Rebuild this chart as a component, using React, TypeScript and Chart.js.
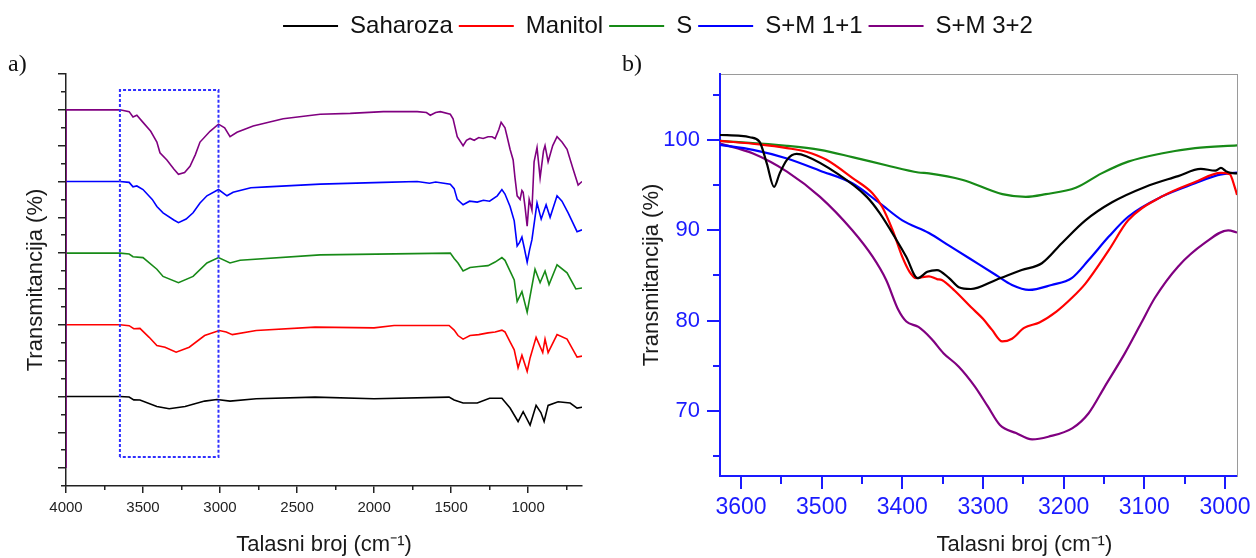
import React, { useEffect, useRef } from 'react';
import { Chart, registerables } from 'chart.js';

Chart.register(...registerables);

const FONT = "'Liberation Sans', Arial, Helvetica, sans-serif";
const SERIF = "'Liberation Serif', 'Times New Roman', serif";

// ---- series (shared legend) ----
const SERIES_NAMES = ['Saharoza', 'Manitol', 'S', 'S+M 1+1', 'S+M 3+2'];
const SERIES_COLORS = ['#000000', '#ff0000', '#178a17', '#0000ff', '#800080'];

// ---- panel a): stacked FTIR spectra (arbitrary offset units) ----
const A_X_MIN = 650;
const A_X_MAX = 4000;
const A_Y_MIN = 0;
const A_Y_MAX = 23;
const A_X_MAJOR = [4000, 3500, 3000, 2500, 2000, 1500, 1000];
const A_X_MINOR = [3750, 3250, 2750, 2250, 1750, 1250, 750];
const A_Y_MAJOR = [1, 3, 5, 7, 9, 11, 13, 15, 17, 19, 21, 23];
const A_Y_MINOR = [0, 2, 4, 6, 8, 10, 12, 14, 16, 18, 20, 22];

const A_BLACK_X = [4000, 3650, 3590, 3560, 3520, 3410, 3330, 3227, 3100, 3020, 2935, 2765, 2383, 2000, 1513, 1480, 1422, 1330, 1250, 1170, 1117, 1065, 1032, 987, 948, 917, 896, 870, 805, 727, 682, 650];
const A_BLACK_Y = [5, 5, 4.97, 4.81, 4.8, 4.44, 4.31, 4.44, 4.74, 4.83, 4.74, 4.87, 4.96, 4.87, 4.96, 4.8, 4.63, 4.63, 4.9, 4.9, 4.35, 3.6, 4.15, 3.4, 4.5, 4.1, 3.6, 4.5, 4.7, 4.63, 4.35, 4.4];

const A_RED_X = [4000, 3650, 3590, 3560, 3520, 3460, 3410, 3357, 3285, 3200, 3100, 3005, 2960, 2920, 2765, 2383, 2000, 1870, 1513, 1480, 1455, 1422, 1377, 1320, 1260, 1214, 1170, 1150, 1117, 1090, 1065, 1040, 1006, 987, 948, 905, 890, 870, 812, 747, 682, 650];
const A_RED_Y = [9, 9, 8.95, 8.78, 8.8, 8.3, 7.84, 7.75, 7.47, 7.75, 8.4, 8.68, 8.6, 8.45, 8.68, 8.87, 8.83, 8.96, 8.96, 8.7, 8.4, 8.2, 8.4, 8.45, 8.55, 8.6, 8.7, 8.6, 8.05, 7.6, 6.6, 7.3, 6.4, 7.15, 8.3, 7.45, 8.2, 7.45, 8.45, 8.2, 7.2, 7.25];

const A_GREEN_X = [4000, 3650, 3590, 3565, 3500, 3410, 3370, 3270, 3175, 3085, 3010, 2935, 2870, 2350, 1505, 1480, 1455, 1422, 1377, 1320, 1260, 1214, 1170, 1150, 1117, 1090, 1071, 1040, 1006, 987, 955, 922, 890, 864, 812, 747, 690, 650];
const A_GREEN_Y = [13, 13, 12.95, 12.8, 12.75, 12.1, 11.7, 11.35, 11.7, 12.45, 12.75, 12.45, 12.6, 12.9, 13.0, 12.7, 12.45, 12.0, 12.2, 12.25, 12.3, 12.5, 12.75, 12.6, 12.0, 11.5, 10.3, 10.85, 9.7, 10.6, 12.1, 11.35, 12.0, 11.25, 12.35, 11.9, 11.0, 11.05];

const A_BLUE_X = [4000, 3650, 3590, 3565, 3540, 3500, 3440, 3410, 3370, 3300, 3270, 3220, 3175, 3130, 3085, 3010, 2955, 2915, 2800, 2695, 2350, 1940, 1720, 1640, 1600, 1505, 1480, 1460, 1422, 1380, 1330, 1290, 1250, 1200, 1170, 1150, 1117, 1090, 1071, 1055, 1040, 1025, 1006, 990, 975, 955, 942, 915, 883, 857, 812, 780, 740, 682, 650];
const A_BLUE_Y = [17, 17, 16.95, 16.7, 16.75, 16.55, 16.0, 15.6, 15.25, 14.85, 14.7, 14.9, 15.25, 15.8, 16.2, 16.55, 16.2, 16.4, 16.65, 16.7, 16.85, 16.95, 17.0, 16.9, 16.97, 16.85, 16.6, 16.0, 15.7, 15.9, 15.85, 15.95, 15.9, 16.2, 16.55, 16.3, 15.6, 14.8, 13.4, 13.6, 13.9, 13.3, 12.5, 13.2, 13.75, 15.0, 15.8, 14.9, 15.7, 15.0, 16.2, 15.9, 15.25, 14.2, 14.3];

const A_PURPLE_X = [4000, 4000, 3650, 3590, 3565, 3540, 3500, 3450, 3410, 3390, 3345, 3300, 3270, 3230, 3195, 3160, 3130, 3065, 3010, 2970, 2935, 2890, 2785, 2590, 2350, 2155, 1940, 1720, 1660, 1635, 1600, 1570, 1505, 1487, 1460, 1422, 1400, 1377, 1350, 1320, 1292, 1260, 1234, 1214, 1190, 1175, 1150, 1136, 1117, 1097, 1085, 1071, 1052, 1040, 1032, 1020, 1006, 993, 975, 961, 942, 922, 900, 890, 870, 840, 812, 780, 747, 708, 675, 650];
const A_PURPLE_Y = [1, 21, 21, 20.9, 20.6, 20.7, 20.3, 19.8, 19.2, 18.6, 18.2, 17.7, 17.4, 17.5, 17.85, 18.5, 19.2, 19.8, 20.2, 20.0, 19.5, 19.75, 20.1, 20.5, 20.75, 20.8, 20.9, 20.9, 20.85, 20.7, 20.85, 20.9, 20.75, 20.5, 19.5, 19.0, 19.3, 19.4, 19.3, 19.45, 19.4, 19.5, 19.5, 19.4, 19.9, 20.3, 20.0, 19.5, 18.8, 18.2, 17.2, 16.2, 16.0, 16.5, 16.4, 15.6, 14.5, 16.0, 15.4, 18.1, 18.9, 17.2, 18.7, 19.0, 18.1, 19.0, 19.5, 19.2, 18.8, 17.7, 16.8, 17.0];

// dotted zoom box marking the O-H region
const A_BOX_X = [3650, 3650, 3010, 3010, 3650];
const A_BOX_Y = [1.62, 22.1, 22.1, 1.62, 1.62];

// ---- panel b): O-H region, transmittance (%) ----
const B_X_MIN = 2985;
const B_X_MAX = 3626;
const B_Y_MIN = 62.8;
const B_Y_MAX = 107.3;
const B_X_MAJOR = [3600, 3500, 3400, 3300, 3200, 3100, 3000];
const B_X_MINOR = [3550, 3450, 3350, 3250, 3150, 3050];
const B_Y_MAJOR = [70, 80, 90, 100];
const B_Y_MINOR = [65, 75, 85, 95, 105];

const B_BLACK_X = [3626, 3600, 3589, 3577, 3568, 3559, 3552, 3543, 3531, 3519, 3481, 3444, 3428, 3407, 3395, 3381, 3369, 3357, 3342, 3330, 3315, 3284, 3252, 3227, 3202, 3173, 3140, 3099, 3058, 3030, 3012, 3005, 2999, 2993, 2985];
const B_BLACK_Y = [100.55, 100.45, 100.3, 99.8, 97.4, 94.8, 96.3, 97.8, 98.45, 98.2, 96.3, 93.7, 91.9, 88.9, 87.05, 84.7, 85.4, 85.6, 84.7, 83.7, 83.5, 84.5, 85.6, 86.35, 88.6, 91.1, 93.1, 94.8, 96.0, 96.8, 96.6, 96.9, 96.55, 96.35, 96.3];

const B_RED_X = [3626, 3577, 3543, 3519, 3494, 3462, 3437, 3425, 3412, 3400, 3391, 3383, 3367, 3357, 3351, 3335, 3315, 3300, 3289, 3276, 3264, 3249, 3230, 3209, 3190, 3173, 3144, 3120, 3079, 3037, 3005, 2994, 2988, 2985];
const B_RED_Y = [99.9, 99.5, 99.1, 98.7, 97.8, 95.8, 94.1, 92.6, 90.0, 87.05, 85.4, 84.7, 84.9, 84.6, 84.5, 83.3, 81.5, 80.2, 79.0, 77.7, 78.0, 79.2, 79.8, 81.0, 82.5, 84.1, 87.8, 91.1, 93.7, 95.35, 96.35, 96.2, 94.8, 93.9];

const B_GREEN_X = [3626, 3543, 3502, 3462, 3420, 3380, 3367, 3326, 3276, 3247, 3222, 3185, 3153, 3120, 3079, 3037, 2985];
const B_GREEN_Y = [99.9, 99.35, 98.9, 98.1, 97.2, 96.4, 96.3, 95.6, 94.0, 93.7, 94.0, 94.7, 96.3, 97.6, 98.5, 99.1, 99.4];

const B_BLUE_X = [3626, 3585, 3543, 3502, 3462, 3428, 3400, 3367, 3342, 3317, 3284, 3264, 3243, 3215, 3190, 3169, 3144, 3120, 3079, 3037, 3009, 2985];
const B_BLUE_Y = [99.45, 98.9, 97.95, 96.6, 95.2, 93.0, 91.1, 89.7, 88.3, 86.9, 85.05, 83.95, 83.4, 83.95, 84.7, 86.7, 89.3, 91.5, 93.7, 95.2, 96.1, 96.4];

const B_PURPLE_X = [3626, 3585, 3543, 3502, 3462, 3437, 3420, 3405, 3395, 3380, 3364, 3349, 3330, 3310, 3294, 3279, 3259, 3239, 3219, 3189, 3169, 3149, 3124, 3104, 3087, 3058, 3025, 2996, 2985];
const B_PURPLE_Y = [99.6, 98.5, 96.5, 93.7, 90.0, 87.1, 84.5, 81.2, 79.9, 79.3, 78.0, 76.4, 74.9, 72.7, 70.5, 68.45, 67.55, 66.85, 67.15, 68.1, 69.75, 72.7, 76.4, 79.7, 82.5, 86.0, 88.6, 90.0, 89.75];

const X_TITLE = 'Talasni broj (cm⁻¹)';
// panel b's axis title sits right of the axis centre in the original
const X_TITLE_B = '               Talasni broj (cm⁻¹)';
const Y_TITLE = 'Transmitancija (%)';

const BLUE_AXIS = '#1a1aff';
const DARK = '#1a1a1a';

const pts = (xs: number[], ys: number[]) => xs.map((x, i) => ({ x, y: ys[i] }));

const setTicks = (vals: number[]) => (s: any) => {
  s.ticks = vals.map((v) => ({ value: v }));
};

function legendConfig(): any {
  return {
    type: 'line',
    data: {
      datasets: SERIES_NAMES.map((n, i) => ({
        label: n,
        data: [],
        borderColor: SERIES_COLORS[i],
        backgroundColor: SERIES_COLORS[i],
        borderWidth: 0,
      })),
    },
    options: {
      responsive: false,
      animation: false,
      events: [],
      layout: { padding: { top: 8 } },
      scales: { x: { display: false }, y: { display: false } },
      plugins: {
        legend: {
          display: true,
          position: 'top',
          align: 'center',
          maxHeight: 60,
          labels: {
            boxWidth: 55,
            boxHeight: 2,
            padding: 6,
            color: '#111',
            font: { family: FONT, size: 24 },
          },
        },
        tooltip: { enabled: false },
      },
    },
  };
}

function panelAConfig(): any {
  const ds = (label: string, xs: number[], ys: number[], color: string) => ({
    label,
    data: pts(xs, ys),
    borderColor: color,
    backgroundColor: color,
    borderWidth: 1.6,
    pointRadius: 0,
    tension: 0,
    fill: false,
  });
  return {
    type: 'line',
    data: {
      datasets: [
        {
          label: 'box',
          data: pts(A_BOX_X, A_BOX_Y),
          borderColor: '#2f2fff',
          borderWidth: 2,
          borderDash: [3, 2],
          pointRadius: 0,
          tension: 0,
          fill: false,
        },
        ds(SERIES_NAMES[4], A_PURPLE_X, A_PURPLE_Y, SERIES_COLORS[4]),
        ds(SERIES_NAMES[3], A_BLUE_X, A_BLUE_Y, SERIES_COLORS[3]),
        ds(SERIES_NAMES[2], A_GREEN_X, A_GREEN_Y, SERIES_COLORS[2]),
        ds(SERIES_NAMES[1], A_RED_X, A_RED_Y, SERIES_COLORS[1]),
        ds(SERIES_NAMES[0], A_BLACK_X, A_BLACK_Y, SERIES_COLORS[0]),
      ],
    },
    options: {
      responsive: false,
      animation: false,
      events: [],
      layout: { padding: { left: 8, right: 18, top: 0, bottom: 0 } },
      plugins: {
        legend: { display: false },
        tooltip: { enabled: false },
        title: {
          display: true,
          text: 'a)',
          align: 'start',
          color: '#111',
          font: { family: SERIF, size: 24, lineHeight: 1, weight: 'normal' },
          padding: { top: 53, bottom: -3 },
        },
      },
      scales: {
        x: {
          type: 'linear',
          position: 'bottom',
          weight: 1,
          min: A_X_MIN,
          max: A_X_MAX,
          reverse: true,
          afterBuildTicks: setTicks(A_X_MAJOR),
          afterFit: (s: any) => {
            s.height = 72;
          },
          ticks: {
            callback: (v: any) => String(v),
            color: '#222',
            font: { family: FONT, size: 15 },
            padding: 6,
            maxRotation: 0,
            minRotation: 0,
            autoSkip: false,
          },
          grid: { drawOnChartArea: false, tickLength: 7, color: '#222', lineWidth: 1.5 },
          border: { color: '#222', width: 1.5 },
          title: {
            display: true,
            text: X_TITLE,
            color: DARK,
            font: { family: FONT, size: 22 },
            padding: { top: 0, bottom: 0 },
          },
        },
        xMinor: {
          type: 'linear',
          position: 'bottom',
          weight: 0,
          min: A_X_MIN,
          max: A_X_MAX,
          reverse: true,
          afterBuildTicks: setTicks(A_X_MINOR),
          afterFit: (s: any) => {
            s.height = 0;
          },
          ticks: { display: false },
          grid: { drawOnChartArea: false, tickLength: 4, color: '#222', lineWidth: 1.5 },
          border: { display: false },
        },
        y: {
          type: 'linear',
          position: 'left',
          weight: 1,
          min: A_Y_MIN,
          max: A_Y_MAX,
          afterBuildTicks: setTicks(A_Y_MAJOR),
          afterFit: (s: any) => {
            s.width = 58;
          },
          ticks: { display: false },
          grid: { drawOnChartArea: false, tickLength: 8, color: '#222', lineWidth: 1.5 },
          border: { color: '#222', width: 1.5 },
          title: {
            display: true,
            text: Y_TITLE,
            color: DARK,
            font: { family: FONT, size: 22 },
            padding: { top: 15, bottom: 0 },
          },
        },
        yMinor: {
          type: 'linear',
          position: 'left',
          weight: 0,
          min: A_Y_MIN,
          max: A_Y_MAX,
          afterBuildTicks: setTicks(A_Y_MINOR),
          afterFit: (s: any) => {
            s.width = 0;
          },
          ticks: { display: false },
          grid: { drawOnChartArea: false, tickLength: 5, color: '#222', lineWidth: 1.5 },
          border: { display: false },
        },
      },
    },
  };
}

function panelBConfig(): any {
  const ds = (label: string, xs: number[], ys: number[], color: string) => ({
    label,
    data: pts(xs, ys),
    borderColor: color,
    backgroundColor: color,
    borderWidth: 2.2,
    pointRadius: 0,
    tension: 0.4,
    cubicInterpolationMode: 'monotone',
    fill: false,
  });
  return {
    type: 'line',
    data: {
      datasets: [
        ds(SERIES_NAMES[0], B_BLACK_X, B_BLACK_Y, SERIES_COLORS[0]),
        ds(SERIES_NAMES[1], B_RED_X, B_RED_Y, SERIES_COLORS[1]),
        ds(SERIES_NAMES[3], B_BLUE_X, B_BLUE_Y, SERIES_COLORS[3]),
        ds(SERIES_NAMES[2], B_GREEN_X, B_GREEN_Y, SERIES_COLORS[2]),
        ds(SERIES_NAMES[4], B_PURPLE_X, B_PURPLE_Y, SERIES_COLORS[4]),
      ],
    },
    options: {
      responsive: false,
      animation: false,
      events: [],
      layout: { padding: { left: 22, right: 0, top: 0, bottom: 0 } },
      plugins: {
        legend: { display: false },
        tooltip: { enabled: false },
        title: {
          display: true,
          text: 'b)',
          align: 'start',
          color: '#111',
          font: { family: SERIF, size: 24, lineHeight: 1, weight: 'normal' },
          padding: { top: 53, bottom: -3 },
        },
      },
      scales: {
        x: {
          type: 'linear',
          position: 'bottom',
          weight: 1,
          min: B_X_MIN,
          max: B_X_MAX,
          reverse: true,
          afterBuildTicks: setTicks(B_X_MAJOR),
          afterFit: (s: any) => {
            s.height = 82;
          },
          ticks: {
            callback: (v: any) => String(v),
            color: BLUE_AXIS,
            font: { family: FONT, size: 23 },
            padding: 5,
            maxRotation: 0,
            minRotation: 0,
            autoSkip: false,
          },
          grid: { drawOnChartArea: false, tickLength: 13, color: BLUE_AXIS, lineWidth: 2 },
          border: { color: BLUE_AXIS, width: 2 },
          title: {
            display: true,
            text: X_TITLE_B,
            color: DARK,
            font: { family: FONT, size: 22 },
            padding: { top: 0, bottom: 0 },
          },
        },
        xMinor: {
          type: 'linear',
          position: 'bottom',
          weight: 0,
          min: B_X_MIN,
          max: B_X_MAX,
          reverse: true,
          afterBuildTicks: setTicks(B_X_MINOR),
          afterFit: (s: any) => {
            s.height = 0;
          },
          ticks: { display: false },
          grid: { drawOnChartArea: false, tickLength: 8, color: BLUE_AXIS, lineWidth: 2 },
          border: { display: false },
        },
        xTop: {
          type: 'linear',
          position: 'top',
          min: B_X_MIN,
          max: B_X_MAX,
          reverse: true,
          afterFit: (s: any) => {
            s.height = 0;
          },
          ticks: { display: false },
          grid: { display: false },
          border: { display: true, color: '#9a9a9a', width: 1 },
        },
        y: {
          type: 'linear',
          position: 'left',
          weight: 1,
          min: B_Y_MIN,
          max: B_Y_MAX,
          afterBuildTicks: setTicks(B_Y_MAJOR),
          afterFit: (s: any) => {
            s.width = 98;
          },
          ticks: {
            callback: (v: any) => String(v),
            color: BLUE_AXIS,
            font: { family: FONT, size: 22 },
            padding: 7,
          },
          grid: { drawOnChartArea: false, tickLength: 13, color: BLUE_AXIS, lineWidth: 2 },
          border: { color: BLUE_AXIS, width: 2 },
          title: {
            display: true,
            text: Y_TITLE,
            color: DARK,
            font: { family: FONT, size: 22 },
            padding: { top: 17, bottom: 0 },
          },
        },
        yMinor: {
          type: 'linear',
          position: 'left',
          weight: 0,
          min: B_Y_MIN,
          max: B_Y_MAX,
          afterBuildTicks: setTicks(B_Y_MINOR),
          afterFit: (s: any) => {
            s.width = 0;
          },
          ticks: { display: false },
          grid: { drawOnChartArea: false, tickLength: 7, color: BLUE_AXIS, lineWidth: 2 },
          border: { display: false },
        },
        yRight: {
          type: 'linear',
          position: 'right',
          min: B_Y_MIN,
          max: B_Y_MAX,
          afterFit: (s: any) => {
            s.width = 17;
          },
          ticks: { display: false },
          grid: { display: false },
          border: { display: true, color: '#9a9a9a', width: 1 },
        },
      },
    },
  };
}

export default function App() {
  const legendRef = useRef<HTMLCanvasElement>(null);
  const aRef = useRef<HTMLCanvasElement>(null);
  const bRef = useRef<HTMLCanvasElement>(null);

  useEffect(() => {
    document.body.style.margin = '0';
    const charts = [
      new Chart(aRef.current as HTMLCanvasElement, panelAConfig()),
      new Chart(bRef.current as HTMLCanvasElement, panelBConfig()),
      new Chart(legendRef.current as HTMLCanvasElement, legendConfig()),
    ];
    return () => charts.forEach((c) => c.destroy());
  }, []);

  return (
    <div
      style={{
        position: 'absolute',
        left: 0,
        top: 0,
        width: 1256,
        height: 558,
        background: '#ffffff',
        overflow: 'hidden',
      }}
    >
      <canvas ref={aRef} width={600} height={558} style={{ position: 'absolute', left: 0, top: 0 }} />
      <canvas ref={bRef} width={656} height={558} style={{ position: 'absolute', left: 600, top: 0 }} />
      <canvas ref={legendRef} width={1196} height={52} style={{ position: 'absolute', left: 60, top: 0 }} />
    </div>
  );
}
